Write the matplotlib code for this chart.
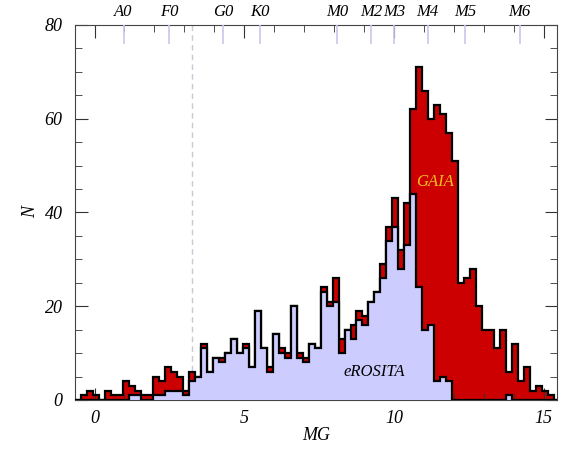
"""
MG histogram: GAIA vs eROSITA
"""

import numpy as np
import matplotlib.pyplot as plt
from matplotlib.ticker import MultipleLocator

# %%
# Data: counts in 0.2 mag bins, first bin starts at MG = -0.65
bin_start = -0.65
bin_width = 0.2

gaia = [0, 1, 2, 1, 0, 2, 1, 1, 4, 3,
        2, 1, 1, 5, 4, 7, 6, 5, 2, 6,
        5, 12, 6, 9, 9, 10, 13, 10, 12, 7,
        19, 11, 7, 14, 11, 10, 20, 10, 9, 12,
        11, 24, 21, 26, 13, 15, 16, 19, 18, 21,
        23, 29, 37, 43, 32, 42, 62, 71, 66, 60,
        63, 61, 57, 51, 25, 26, 28, 20, 15, 15,
        11, 15, 6, 12, 4, 7, 2, 3, 2, 1,
        0]

erosita = [0, 0, 0, 0, 0, 0, 0, 0, 0, 1,
           1, 0, 0, 1, 1, 2, 2, 2, 1, 4,
           5, 11, 6, 9, 8, 10, 13, 10, 11, 7,
           19, 11, 6, 14, 10, 9, 20, 9, 8, 12,
           11, 23, 20, 21, 10, 15, 13, 17, 16, 21,
           23, 26, 34, 37, 28, 33, 44, 24, 15, 16,
           4, 5, 4, 0, 0, 0, 0, 0, 0, 0,
           0, 0, 1, 0, 0, 0, 0, 0, 0, 0,
           0]

# spectral types along the top axis
sptypes = ["A0", "F0", "G0", "K0", "M0", "M2", "M3", "M4", "M5", "M6"]
sp_mg = [0.97, 2.49, 4.3, 5.53, 8.1, 9.23, 10.0, 11.13, 12.39, 14.2]

edges = bin_start + bin_width * np.arange(len(gaia) + 1)

# %%
# Plot
plt.rcParams["font.family"] = ["Liberation Serif", "DejaVu Serif"]
plt.rcParams["font.style"] = "italic"

fig = plt.figure(figsize=(5.69, 4.53), dpi=100)
ax = fig.add_axes([0.132, 0.117, 0.847, 0.828])

ax.axvline(3.26, color="#c8c8d8", lw=1, ls=(0, (4, 3)), zorder=0)

ax.stairs(gaia, edges, fill=True, color="#cc0000", baseline=-1, zorder=1)
ax.stairs(gaia, edges, color="black", lw=1.6, baseline=None, zorder=2)
ax.stairs(erosita, edges, fill=True, color="#ccccff", baseline=-1, zorder=3)
ax.stairs(erosita, edges, color="black", lw=1.6, baseline=None, zorder=4)

ax.text(11.37, 46.5, "GAIA", color="#f0c020", fontsize=12, ha="center", va="center", zorder=5)
ax.text(9.33, 6.0, "eROSITA", color="black", fontsize=12, ha="center", va="center", zorder=5)

# spectral type markers
trans = ax.get_xaxis_transform()
ax.vlines(sp_mg, 0.95, 1.0, transform=trans, color="#c8c8ec", lw=1.2, zorder=5)
for lab, x in zip(sptypes, sp_mg):
    ax.text(x, 1.035, lab, transform=trans, ha="center", va="center", fontsize=12)

ax.set_xlim(-0.65, 15.45)
ax.set_ylim(0, 80)
ax.xaxis.set_major_locator(MultipleLocator(5))
ax.xaxis.set_minor_locator(MultipleLocator(1))
ax.yaxis.set_major_locator(MultipleLocator(20))
ax.yaxis.set_minor_locator(MultipleLocator(5))
ax.tick_params(which="both", direction="in", top=True, right=True, labelsize=13, color="#333333")
ax.tick_params(which="major", length=9)
ax.tick_params(which="minor", length=5)
ax.tick_params(axis="x", pad=7)
ax.tick_params(axis="y", pad=9)
for s in ax.spines.values():
    s.set_color("#444444")

ax.set_xlabel("MG", fontsize=13, labelpad=0)
ax.set_ylabel("N", fontsize=13, labelpad=4)

fig.savefig("out.png", dpi=100)
